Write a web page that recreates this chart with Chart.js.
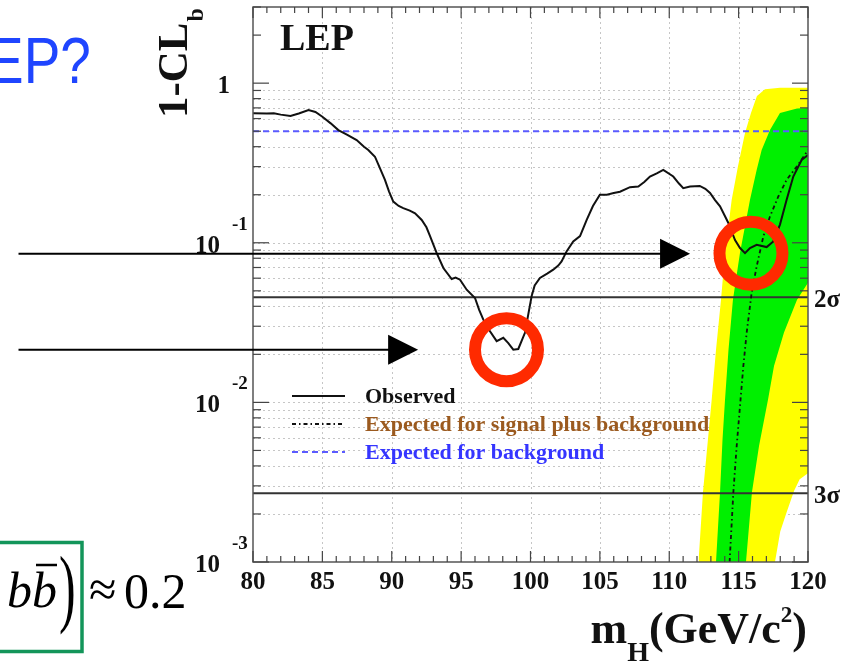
<!DOCTYPE html>
<html><head><meta charset="utf-8">
<script src="https://cdn.jsdelivr.net/npm/chart.js@4.4.1/dist/chart.umd.min.js"></script>
<style>html,body{margin:0;padding:0;background:#fff;overflow:hidden}canvas{display:block}</style>
</head><body>
<canvas id="c" width="854" height="664"></canvas>
<script>
// ---------------- data ----------------
const obsMass = [80.0,81.0,81.5,82.0,82.7,83.3,84.0,84.5,85.0,85.6,86.15,86.8,87.47,88.0,88.31,88.79,89.1,89.51,89.8,90.11,90.5,90.83,91.3,91.68,92.16,92.5,92.76,93.24,93.72,94.32,94.6,94.92,95.4,96.0,96.3,96.6,97.08,97.56,98.04,98.4,98.76,99.12,99.6,99.85,100.08,100.3,100.68,101.2,101.64,102.0,102.24,102.6,103.08,103.57,104.05,104.5,105.0,105.5,106.0,106.45,107.17,107.77,108.2,108.61,109.1,109.57,110.29,110.7,111.01,111.5,112.2,112.6,112.94,113.3,113.66,114.26,114.74,115.1,115.46,115.82,116.3,117.02,117.5,117.98,118.46,118.94,119.54,120.0];
const obsClb = [0.647,0.645,0.647,0.635,0.622,0.645,0.678,0.66,0.616,0.56,0.508,0.475,0.44,0.40,0.381,0.346,0.30,0.248,0.21,0.181,0.170,0.165,0.159,0.153,0.139,0.125,0.11,0.0861,0.0695,0.0593,0.0605,0.0587,0.0508,0.0451,0.038,0.033,0.0279,0.0242,0.0254,0.0235,0.0214,0.0216,0.0273,0.036,0.0462,0.054,0.0602,0.064,0.0678,0.072,0.0764,0.0883,0.102,0.11,0.139,0.17,0.2,0.2,0.205,0.209,0.223,0.225,0.24,0.26,0.272,0.286,0.26,0.235,0.22,0.225,0.227,0.218,0.205,0.185,0.169,0.133,0.104,0.0927,0.0861,0.0927,0.0971,0.094,0.102,0.13,0.186,0.26,0.33,0.355];

const sbMass = [114.35,114.62,114.86,115.1,115.34,115.58,115.94,116.3,116.78,117.26,117.86,118.46,119.19,120.0];
const sbClb  = [0.001,0.00273,0.00533,0.0095,0.0169,0.0273,0.0487,0.0711,0.1095,0.146,0.195,0.248,0.30,0.381];

const bgMass = [80, 120];
const bgClb  = [0.5, 0.5];

const band2UpMass = [112.11,112.43,112.79,113.06,113.37,113.73,114.02,114.50,114.95,115.46,115.89,116.32,116.90,117.98,120.0];
const band2UpClb  = [0.001,0.00274,0.00587,0.01044,0.0214,0.044,0.0866,0.186,0.30,0.487,0.65,0.83,0.917,0.937,0.937];
const band2LoMass = [112.11,117.62,118.0,118.46,119.0,119.4,120.0];
const band2LoClb  = [0.001,0.001,0.00155,0.00205,0.0028,0.0033,0.0036];

const band1UpMass = [113.37,113.66,113.84,114.02,114.27,114.59,115.10,115.82,116.30,116.66,117.26,117.98,119.21,120.0];
const band1UpClb  = [0.001,0.00274,0.00587,0.01044,0.0214,0.044,0.0866,0.186,0.286,0.381,0.508,0.65,0.693,0.698];
const band1LoMass = [113.37,115.53,115.96,116.47,117.12,117.55,118.27,119.21,120.0];
const band1LoClb  = [0.001,0.001,0.00274,0.00533,0.01044,0.0169,0.0274,0.044,0.0562];

const sigmaLevels = [0.0455, 0.0027];
const sigmaLabels = ['2σ', '3σ'];

const xTickMass   = [80,85,90,95,100,105,110,115,120];
const xTickLabels = ['80','85','90','95','100','105','110','115','120'];
const yDecades    = [0.001,0.01,0.1,1];
const yLabelBase  = ['10','10','10','1'];
const yLabelExp   = ['-3','-2','-1',''];

const legendLabels = ['Observed','Expected for signal plus background','Expected for background'];
const legendColors = ['#111111','#9b5a1f','#3535ff'];

// annotations (slide overlay) in data units
const arrowTailMass = 63.1;
const arrowTipMass  = [111.5, 91.9];
const arrowLevel    = [0.0855, 0.0214];
const circleMass    = [98.27, 115.89];
const circleClb     = [0.0214, 0.086];

const xMin = 80, xMax = 120, yMin = 0.001, yMax = 3;
// ---------------------------------------------------------------

const SERIF = '"Liberation Serif","Times New Roman",serif';
const pts = (xs, ys) => xs.map((x, i) => ({x: x, y: ys[i]}));

function seg(ctx, x0, y0, x1, y1) { ctx.beginPath(); ctx.moveTo(x0, y0); ctx.lineTo(x1, y1); ctx.stroke(); }

const overlay = {
  id: 'overlay',
  beforeDatasetsDraw(c) {
    const ctx = c.ctx, X = c.scales.x, Y = c.scales.y, A = c.chartArea;
    ctx.save();
    ctx.beginPath(); ctx.rect(A.left, A.top, A.right - A.left, A.bottom - A.top); ctx.clip();
    ctx.strokeStyle = '#c6c6c6'; ctx.lineWidth = 1; ctx.setLineDash([2, 3]);
    xTickMass.forEach(m => { if (m > xMin && m < xMax) { const x = Math.round(X.getPixelForValue(m)) + 0.5; seg(ctx, x, A.top, x, A.bottom); } });
    yDecades.forEach(d => { for (let k = 1; k <= 9; k++) { const v = k * d; if (v <= yMin || v >= 1) continue; const y = Math.round(Y.getPixelForValue(v)) + 0.5; seg(ctx, A.left, y, A.right, y); } });
    ctx.restore();
  },
  afterDatasetsDraw(c) {
    const ctx = c.ctx, X = c.scales.x, Y = c.scales.y, A = c.chartArea;
    const px = m => X.getPixelForValue(m), py = v => Y.getPixelForValue(v);
    ctx.save();
    ctx.setLineDash([]);
    // frame
    ctx.strokeStyle = '#555'; ctx.lineWidth = 1.5;
    ctx.strokeRect(A.left, A.top, A.right - A.left, A.bottom - A.top);
    // ticks
    ctx.lineWidth = 1.2; ctx.strokeStyle = '#444';
    for (let m = xMin; m <= xMax; m += 1) {
      const x = px(m), L = (m % 5 === 0) ? 11 : 6;
      seg(ctx, x, A.bottom, x, A.bottom - L); seg(ctx, x, A.top, x, A.top + L);
    }
    yDecades.forEach(d => { for (let k = 1; k <= 9; k++) { const v = k * d; if (v < yMin || v > yMax) continue; const y = py(v), L = k === 1 ? 16 : 8; seg(ctx, A.left, y, A.left + L, y); seg(ctx, A.right, y, A.right - L, y); } });
    // tick labels
    ctx.fillStyle = '#111'; ctx.textBaseline = 'alphabetic';
    ctx.font = 'bold 25px ' + SERIF; ctx.textAlign = 'center';
    xTickMass.forEach((m, i) => ctx.fillText(xTickLabels[i], px(m), A.bottom + 27));
    yDecades.forEach((d, i) => {
      const y = py(d);
      ctx.font = 'bold 25px ' + SERIF; ctx.textAlign = 'right';
      if (yLabelExp[i]) {
        ctx.fillText(yLabelBase[i], A.left - 33, y + 10);
        ctx.font = 'bold 19px ' + SERIF; ctx.textAlign = 'left';
        ctx.fillText(yLabelExp[i], A.left - 21, y - 13);
      } else {
        ctx.fillText(yLabelBase[i], A.left - 23, y + 10);
      }
    });
    // y title 1-CL_b (rotated)
    ctx.save();
    ctx.translate(187, 118); ctx.rotate(-Math.PI / 2);
    ctx.textAlign = 'left'; ctx.font = 'bold 43px ' + SERIF;
    ctx.fillText('1-CL', 0, 0);
    const w1 = ctx.measureText('1-CL').width;
    ctx.font = 'bold 24px ' + SERIF; ctx.fillText('b', w1 + 1, 16);
    ctx.restore();
    // x title m_H(GeV/c^2)
    {
      const parts = [['m', 44, 0], ['H', 28, 18], ['(GeV/c', 44, 0], ['2', 23, -21], [')', 44, 0]];
      let tot = 0; parts.forEach(p => { ctx.font = 'bold ' + p[1] + 'px ' + SERIF; p.push(ctx.measureText(p[0]).width); tot += p[3]; });
      let x = 807 - tot; ctx.textAlign = 'left';
      parts.forEach(p => { ctx.font = 'bold ' + p[1] + 'px ' + SERIF; ctx.fillText(p[0], x, 643 + p[2]); x += p[3]; });
    }
    // LEP label
    ctx.font = 'bold 38px ' + SERIF; ctx.textAlign = 'left';
    ctx.fillText('LEP', A.left + 27, A.top + 43);
    // sigma labels
    ctx.font = 'bold 25px ' + SERIF;
    sigmaLevels.forEach((v, i) => ctx.fillText(sigmaLabels[i], A.right + 6, py(v) + 10));
    // legend
    const ds = c.data.datasets;
    legendLabels.forEach((lab, i) => {
      const yc = 396 + i * 28;
      ctx.save();
      ctx.strokeStyle = ds[i].borderColor; ctx.lineWidth = ds[i].borderWidth;
      ctx.setLineDash(ds[i].borderDash || []);
      seg(ctx, 292, yc, 345, yc);
      ctx.restore();
      ctx.fillStyle = legendColors[i]; ctx.font = 'bold 22px ' + SERIF; ctx.textAlign = 'left';
      ctx.fillText(lab, 365, yc + 7);
    });
    // arrows
    ctx.fillStyle = '#000'; ctx.strokeStyle = '#000'; ctx.lineWidth = 2;
    arrowTipMass.forEach((m, i) => {
      const y = py(arrowLevel[i]), x0 = px(arrowTailMass), x1 = px(m);
      seg(ctx, x0, y, x1 - 28, y);
      ctx.beginPath(); ctx.moveTo(x1 - 30, y - 15); ctx.lineTo(x1, y); ctx.lineTo(x1 - 30, y + 15); ctx.closePath(); ctx.fill();
    });
    // red circles
    ctx.strokeStyle = '#ff2a00'; ctx.lineWidth = 12;
    circleMass.forEach((m, i) => { ctx.beginPath(); ctx.arc(px(m), py(circleClb[i]), 31.5, 0, 2 * Math.PI); ctx.stroke(); });
    // slide text: "LEP?" (cut at left edge)
    ctx.save();
    ctx.fillStyle = '#1f45ff'; ctx.font = '64px "Liberation Sans",Arial,sans-serif'; ctx.textAlign = 'left';
    ctx.translate(-12.9, 83); ctx.scale(0.857, 1);
    const wL = ctx.measureText('L').width;
    ctx.fillText('LEP?', -wL, 0);
    ctx.restore();
    // slide formula
    ctx.strokeStyle = '#13955a'; ctx.lineWidth = 3.5;
    ctx.strokeRect(-10, 542.5, 92, 109);
    ctx.fillStyle = '#000';
    ctx.font = 'italic 50px ' + SERIF; ctx.textAlign = 'left';
    ctx.fillText('bb', 7, 607);
    ctx.strokeStyle = '#000'; ctx.lineWidth = 2.5; seg(ctx, 36, 565, 57, 565);
    ctx.save(); ctx.translate(59, 616); ctx.scale(1, 1.75); ctx.font = '50px ' + SERIF; ctx.fillText(')', 0, 0); ctx.restore();
    ctx.font = '50px ' + SERIF;
    ctx.fillText('≈', 89, 606);
    ctx.fillText('0.2', 124, 608);
    ctx.restore();
  }
};

new Chart(document.getElementById('c'), {
  type: 'line',
  data: {
    datasets: [
      {label: legendLabels[0], data: pts(obsMass, obsClb), borderColor: '#111111', borderWidth: 2, pointRadius: 0, fill: false, order: 0},
      {label: legendLabels[1], data: pts(sbMass, sbClb), borderColor: '#111111', borderWidth: 1.8, borderDash: [4, 3, 1.5, 3], pointRadius: 0, fill: false, order: 1},
      {label: legendLabels[2], data: pts(bgMass, bgClb), borderColor: '#5b5bff', borderWidth: 2, borderDash: [6, 4], pointRadius: 0, fill: false, order: 2},
      {label: sigmaLabels[0], data: pts(bgMass, [sigmaLevels[0], sigmaLevels[0]]), borderColor: '#333', borderWidth: 2, pointRadius: 0, fill: false, order: 3},
      {label: sigmaLabels[1], data: pts(bgMass, [sigmaLevels[1], sigmaLevels[1]]), borderColor: '#333', borderWidth: 2, pointRadius: 0, fill: false, order: 3},
      {label: '±1σ', data: pts(band1UpMass, band1UpClb), borderWidth: 0, borderColor: 'rgba(0,0,0,0)', backgroundColor: '#00f000', fill: '+1', pointRadius: 0, order: 5},
      {label: '±1σ low', data: pts(band1LoMass, band1LoClb), borderWidth: 0, borderColor: 'rgba(0,0,0,0)', backgroundColor: 'rgba(0,0,0,0)', fill: false, pointRadius: 0, order: 6},
      {label: '±2σ', data: pts(band2UpMass, band2UpClb), borderWidth: 0, borderColor: 'rgba(0,0,0,0)', backgroundColor: '#ffff00', fill: '+1', pointRadius: 0, order: 7},
      {label: '±2σ low', data: pts(band2LoMass, band2LoClb), borderWidth: 0, borderColor: 'rgba(0,0,0,0)', backgroundColor: 'rgba(0,0,0,0)', fill: false, pointRadius: 0, order: 8}
    ]
  },
  options: {
    responsive: false, animation: false, devicePixelRatio: 1, events: [],
    layout: {padding: {left: 253, right: 46, top: 7, bottom: 102}},
    plugins: {legend: {display: false}, tooltip: {enabled: false}, title: {display: false}},
    scales: {
      x: {type: 'linear', min: xMin, max: xMax, bounds: 'data',
          ticks: {display: false}, grid: {display: false, drawTicks: false}, border: {display: false}, title: {display: false}},
      y: {type: 'logarithmic', min: yMin, max: yMax, bounds: 'data',
          ticks: {display: false}, grid: {display: false, drawTicks: false}, border: {display: false}, title: {display: false}}
    }
  },
  plugins: [overlay]
});
</script>
</body></html>
